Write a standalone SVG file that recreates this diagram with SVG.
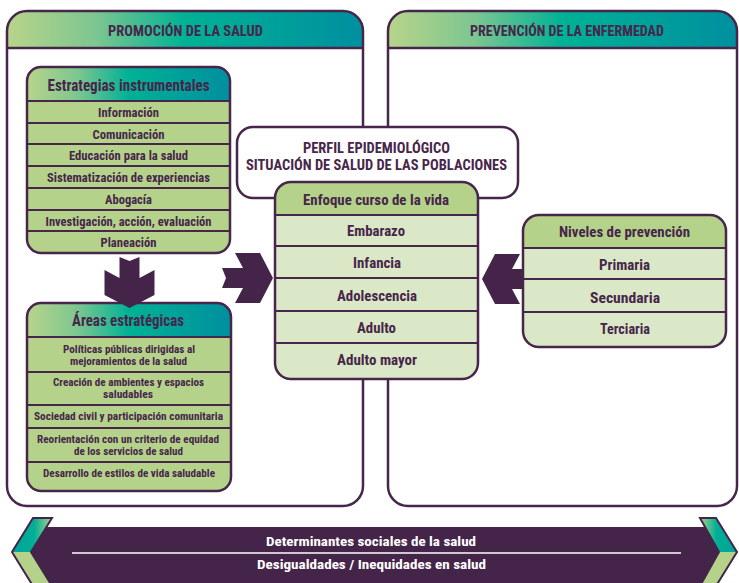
<svg xmlns="http://www.w3.org/2000/svg" width="739" height="583" viewBox="0 0 739 583">
<style>
text{font-family:"Roboto Condensed","Roboto","Liberation Sans",sans-serif;font-weight:bold;fill:#47264b;text-anchor:middle}
.ln{stroke:#47264b;stroke-width:2.5;fill:none}
.row{stroke:#47264b;stroke-width:2}
.w{fill:#ffffff}
.ph{font-size:15.5px}
.bh{font-size:16.5px}
.r1{font-size:12px}
.r2{font-size:10px}
.r3{font-size:14px}
.bt{fill:#ffffff;font-size:13.5px}
</style>
<defs>
<linearGradient id="hg" x1="0" y1="0" x2="1" y2="0">
<stop offset="0" stop-color="#b8d48a"/>
<stop offset="0.25" stop-color="#7cc690"/>
<stop offset="0.5" stop-color="#00b295"/>
<stop offset="1" stop-color="#008f9f"/>
</linearGradient>
<linearGradient id="gl" x1="0" y1="0" x2="1" y2="0">
<stop offset="0" stop-color="#00a39c"/>
<stop offset="0.55" stop-color="#00ae95"/>
<stop offset="1" stop-color="#a8d08c"/>
</linearGradient>
<linearGradient id="gr" x1="0" y1="0" x2="1" y2="0">
<stop offset="0" stop-color="#a8d08c"/>
<stop offset="0.45" stop-color="#00ae95"/>
<stop offset="1" stop-color="#00a39c"/>
</linearGradient>
<path id="arr" d="M0,0 L-13,-25 L-38,-25 L-30,-10 L-51,-10 L-47,0 L-51,10 L-30,10 L-38,25 L-13,25 Z" fill="#45244a"/>
</defs>

<g id="panel-promocion">
<rect x="7" y="11" width="356" height="495" rx="20" class="w"/>
<path d="M7,48 V31 A20,20 0 0 1 27,11 H343 A20,20 0 0 1 363,31 V48 Z" fill="url(#hg)"/>
<line x1="7" y1="48" x2="363" y2="48" class="ln"/>
<rect x="7" y="11" width="356" height="495" rx="20" class="ln"/>
<text x="185.5" y="36" class="ph" textLength="155" lengthAdjust="spacingAndGlyphs">PROMOCIÓN DE LA SALUD</text>
</g>

<g id="panel-prevencion">
<rect x="388" y="11" width="349" height="495" rx="20" class="w"/>
<path d="M388,48 V31 A20,20 0 0 1 408,11 H717 A20,20 0 0 1 737,31 V48 Z" fill="url(#hg)"/>
<line x1="388" y1="48" x2="737" y2="48" class="ln"/>
<rect x="388" y="11" width="349" height="495" rx="20" class="ln"/>
<text x="567" y="36" class="ph" textLength="194" lengthAdjust="spacingAndGlyphs">PREVENCIÓN DE LA ENFERMEDAD</text>
</g>

<g id="estrategias">
<rect x="27" y="67" width="203" height="186" rx="14" fill="#b4d28a"/>
<path d="M27,101 V82 A15,15 0 0 1 42,67 H215 A15,15 0 0 1 230,82 V101 Z" fill="url(#hg)"/>
<g class="row">
<line x1="27" y1="101" x2="230" y2="101"/>
<line x1="27" y1="123" x2="230" y2="123"/>
<line x1="27" y1="144" x2="230" y2="144"/>
<line x1="27" y1="166" x2="230" y2="166"/>
<line x1="27" y1="188" x2="230" y2="188"/>
<line x1="27" y1="210" x2="230" y2="210"/>
<line x1="27" y1="231" x2="230" y2="231"/>
</g>
<rect x="27" y="67" width="203" height="186" rx="14" class="ln"/>
<text x="128.5" y="91" class="bh" textLength="162" lengthAdjust="spacingAndGlyphs">Estrategias instrumentales</text>
<text x="128.5" y="117" class="r1" textLength="61" lengthAdjust="spacingAndGlyphs">Información</text>
<text x="128.5" y="138.5" class="r1" textLength="72" lengthAdjust="spacingAndGlyphs">Comunicación</text>
<text x="128.5" y="160" class="r1" textLength="119" lengthAdjust="spacingAndGlyphs">Educación para la salud</text>
<text x="128.5" y="182" class="r1" textLength="163" lengthAdjust="spacingAndGlyphs">Sistematización de experiencias</text>
<text x="128.5" y="204" class="r1" textLength="47" lengthAdjust="spacingAndGlyphs">Abogacía</text>
<text x="128.5" y="225.5" class="r1" textLength="166" lengthAdjust="spacingAndGlyphs">Investigación, acción, evaluación</text>
<text x="128.5" y="247" class="r1" textLength="56" lengthAdjust="spacingAndGlyphs">Planeación</text>
</g>

<g id="areas">
<rect x="27" y="303" width="204" height="188" rx="14" fill="#b4d28a"/>
<path d="M27,337 V318 A15,15 0 0 1 42,303 H216 A15,15 0 0 1 231,318 V337 Z" fill="url(#hg)"/>
<g class="row">
<line x1="27" y1="337" x2="231" y2="337"/>
<line x1="27" y1="372" x2="231" y2="372"/>
<line x1="27" y1="405" x2="231" y2="405"/>
<line x1="27" y1="428" x2="231" y2="428"/>
<line x1="27" y1="462" x2="231" y2="462"/>
</g>
<rect x="27" y="303" width="204" height="188" rx="14" class="ln"/>
<text x="128" y="326" class="bh" textLength="112" lengthAdjust="spacingAndGlyphs">Áreas estratégicas</text>
<text x="129" y="352.5" class="r2" textLength="132" lengthAdjust="spacingAndGlyphs">Políticas públicas dirigidas al</text>
<text x="128.5" y="364.5" class="r2" textLength="117" lengthAdjust="spacingAndGlyphs">mejoramientos de la salud</text>
<text x="128.5" y="386" class="r2" textLength="151" lengthAdjust="spacingAndGlyphs">Creación de ambientes y espacios</text>
<text x="128" y="398" class="r2" textLength="50" lengthAdjust="spacingAndGlyphs">saludables</text>
<text x="128.5" y="420" class="r2" textLength="189" lengthAdjust="spacingAndGlyphs">Sociedad civil y participación comunitaria</text>
<text x="128" y="442.5" class="r2" textLength="182" lengthAdjust="spacingAndGlyphs">Reorientación con un criterio de equidad</text>
<text x="128.5" y="454.5" class="r2" textLength="109" lengthAdjust="spacingAndGlyphs">de los servicios de salud</text>
<text x="129" y="477" class="r2" textLength="172" lengthAdjust="spacingAndGlyphs">Desarrollo de estilos de vida saludable</text>
</g>

<g id="perfil">
<rect x="237" y="127" width="281" height="71" rx="16" class="w"/>
<rect x="237" y="127" width="281" height="71" rx="16" class="ln"/>
<text x="376.5" y="153" class="r3" font-size="14.5" textLength="147" lengthAdjust="spacingAndGlyphs">PERFIL EPIDEMIOLÓGICO</text>
<text x="376.5" y="170" class="r3" font-size="14.5" textLength="261" lengthAdjust="spacingAndGlyphs">SITUACIÓN DE SALUD DE LAS POBLACIONES</text>
</g>

<g id="enfoque">
<rect x="275" y="182" width="203" height="197" rx="16" fill="#dbe8c7"/>
<path d="M275,215 V200 A18,18 0 0 1 293,182 H460 A18,18 0 0 1 478,200 V215 Z" fill="#b4d28a"/>
<g class="row">
<line x1="275" y1="215" x2="478" y2="215"/>
<line x1="275" y1="246" x2="478" y2="246"/>
<line x1="275" y1="278" x2="478" y2="278"/>
<line x1="275" y1="311" x2="478" y2="311"/>
<line x1="275" y1="343" x2="478" y2="343"/>
</g>
<rect x="275" y="182" width="203" height="197" rx="16" class="ln"/>
<text x="376" y="205" class="r3" font-size="14.5" textLength="146" lengthAdjust="spacingAndGlyphs">Enfoque curso de la vida</text>
<text x="376" y="236" class="r3" textLength="58" lengthAdjust="spacingAndGlyphs">Embarazo</text>
<text x="377" y="268" class="r3" textLength="48" lengthAdjust="spacingAndGlyphs">Infancia</text>
<text x="377" y="301" class="r3" textLength="80" lengthAdjust="spacingAndGlyphs">Adolescencia</text>
<text x="376.5" y="333" class="r3" textLength="39" lengthAdjust="spacingAndGlyphs">Adulto</text>
<text x="377" y="364.5" class="r3" textLength="80" lengthAdjust="spacingAndGlyphs">Adulto mayor</text>
</g>

<g id="connectors">
<use href="#arr" transform="translate(129.5,308) rotate(90)"/>
<use href="#arr" transform="translate(273,278)"/>
<use href="#arr" transform="translate(482,279) rotate(180)"/>
</g>

<g id="niveles">
<rect x="523" y="215" width="203" height="132" rx="16" fill="#dbe8c7"/>
<path d="M523,248 V233 A18,18 0 0 1 541,215 H708 A18,18 0 0 1 726,233 V248 Z" fill="#b4d28a"/>
<g class="row">
<line x1="523" y1="248" x2="726" y2="248"/>
<line x1="523" y1="279" x2="726" y2="279"/>
<line x1="523" y1="312" x2="726" y2="312"/>
</g>
<rect x="523" y="215" width="203" height="132" rx="16" class="ln"/>
<text x="624.5" y="237" class="r3" font-size="14.5" textLength="131" lengthAdjust="spacingAndGlyphs">Niveles de prevención</text>
<text x="624.5" y="270" class="r3" textLength="51" lengthAdjust="spacingAndGlyphs">Primaria</text>
<text x="625" y="303" class="r3" textLength="70" lengthAdjust="spacingAndGlyphs">Secundaria</text>
<text x="625" y="334" class="r3" textLength="50" lengthAdjust="spacingAndGlyphs">Terciaria</text>
</g>

<g id="determinantes">
<polygon points="46,527 705,527 719,552 702,583 50,583 31,552" fill="#45244a"/>
<polygon points="33,518 52,518 31,552 12,552" fill="url(#gl)"/>
<polygon points="12,552 31,552 52,586 33,586" fill="#b4d28a"/>
<polygon points="33,518 52,518 31,552 52,586 33,586 12,552" fill="none" stroke="#45244a" stroke-width="2" stroke-linejoin="miter"/>
<polygon points="700,518 716,518 737,552 719,552" fill="url(#gr)"/>
<polygon points="719,552 737,552 716,586 700,586" fill="#b4d28a"/>
<polygon points="700,518 716,518 737,552 716,586 700,586 719,552" fill="none" stroke="#45244a" stroke-width="2" stroke-linejoin="miter"/>
<line x1="72" y1="553" x2="681" y2="553" stroke="#ffffff" stroke-width="1.5"/>
<text x="371" y="546" class="bt" textLength="210" lengthAdjust="spacingAndGlyphs">Determinantes sociales de la salud</text>
<text x="371.5" y="569" class="bt" textLength="229" lengthAdjust="spacingAndGlyphs">Desigualdades / Inequidades en salud</text>
</g>
</svg>
